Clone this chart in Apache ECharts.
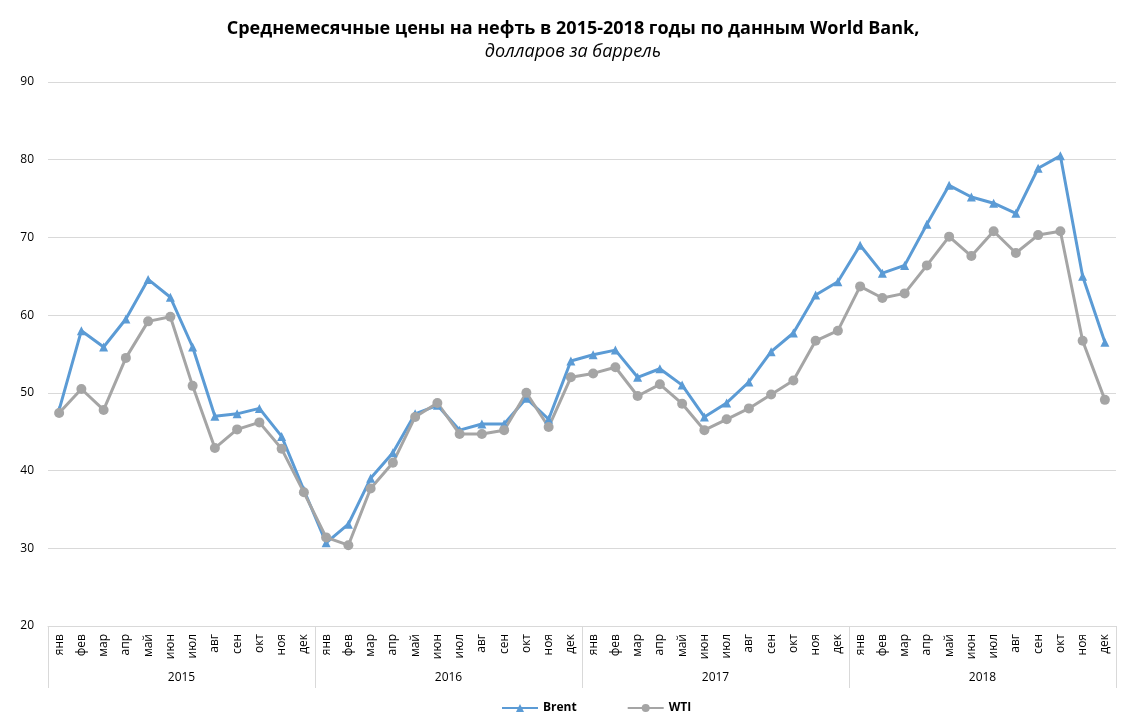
<!DOCTYPE html>
<html>
<head>
<meta charset="utf-8">
<script src="https://cdn.jsdelivr.net/npm/echarts@6/dist/echarts.min.js"></script>
<style>html,body{margin:0;padding:0;background:#fff}#c{width:1146px;height:722px}</style>
</head>
<body>
<div id="c"></div>
<script>
const months = ['янв','фев','мар','апр','май','июн','июл','авг','сен','окт','ноя','дек'];
const years = ['2015','2016','2017','2018'];
const brent = [
  47.8, 58.0, 55.9, 59.5, 64.6, 62.3, 55.9, 47.0, 47.3, 48.0, 44.4, 37.5,
  30.7, 33.1, 39.0, 42.3, 47.3, 48.4, 45.2, 46.0, 46.0, 49.3, 46.6, 54.1,
  54.9, 55.5, 52.0, 53.1, 51.0, 46.9, 48.7, 51.4, 55.3, 57.7, 62.6, 64.3,
  69.0, 65.4, 66.4, 71.7, 76.7, 75.2, 74.4, 73.1, 78.9, 80.5, 65.0, 56.5
];
const wti = [
  47.4, 50.5, 47.8, 54.5, 59.2, 59.8, 50.9, 42.9, 45.3, 46.2, 42.8, 37.2,
  31.4, 30.4, 37.7, 41.0, 46.9, 48.7, 44.7, 44.7, 45.2, 50.0, 45.6, 52.0,
  52.5, 53.3, 49.6, 51.1, 48.6, 45.2, 46.6, 48.0, 49.8, 51.6, 56.7, 58.0,
  63.7, 62.2, 62.8, 66.4, 70.1, 67.6, 70.8, 68.0, 70.3, 70.8, 56.7, 49.1
];
const yTicks = {min: 20, max: 90, interval: 10};

const cats = [];
years.forEach(y => months.forEach(m => cats.push(m)));

const font = 'Open Sans, Noto Sans, sans-serif';
const chart = echarts.init(document.getElementById('c'));
chart.setOption({
  animation: false,
  title: {
    text: 'Среднемесячные цены на нефть в 2015-2018 годы по данным World Bank,',
    subtext: 'долларов за баррель',
    left: 'center',
    top: 15,
    itemGap: 5,
    textStyle: {fontFamily: font, fontSize: 18, fontWeight: 'bold', color: '#000'},
    subtextStyle: {fontFamily: font, fontSize: 18, fontStyle: 'italic', color: '#000'}
  },
  legend: {
    bottom: 3,
    left: 496,
    itemGap: 50,
    itemWidth: 36,
    itemHeight: 10,
    textStyle: {fontFamily: font, fontSize: 12, fontWeight: 'bold', color: '#000'},
    data: ['Brent', 'WTI']
  },
  grid: {left: 48, right: 30, top: 82, bottom: 96},
  xAxis: [
    {
      type: 'category',
      data: cats,
      boundaryGap: true,
      axisLine: {lineStyle: {color: '#d9d9d9'}},
      axisTick: {show: false},
      axisLabel: {interval: 0, rotate: 90, fontFamily: font, fontSize: 12, color: '#000', margin: 8}
    },
    {
      type: 'category',
      data: years,
      position: 'bottom',
      boundaryGap: true,
      axisLine: {show: false},
      axisTick: {show: true, length: 62, interval: 0, lineStyle: {color: '#d9d9d9'}},
      axisLabel: {fontFamily: font, fontSize: 12, color: '#000', margin: 46}
    }
  ],
  yAxis: {
    type: 'value',
    min: yTicks.min, max: yTicks.max, interval: yTicks.interval,
    axisLine: {show: false},
    axisTick: {show: false},
    axisLabel: {fontFamily: font, fontSize: 12, color: '#000', margin: 14},
    splitLine: {lineStyle: {color: '#d9d9d9'}}
  },
  series: [
    {
      name: 'Brent', type: 'line', data: brent, xAxisIndex: 0,
      symbol: 'triangle', symbolSize: 9,
      lineStyle: {width: 3, color: '#5B9BD5'},
      itemStyle: {color: '#5B9BD5'}
    },
    {
      name: 'WTI', type: 'line', data: wti, xAxisIndex: 0,
      symbol: 'circle', symbolSize: 10,
      lineStyle: {width: 3, color: '#A5A5A5'},
      itemStyle: {color: '#A5A5A5'}
    }
  ]
});
</script>
</body>
</html>
